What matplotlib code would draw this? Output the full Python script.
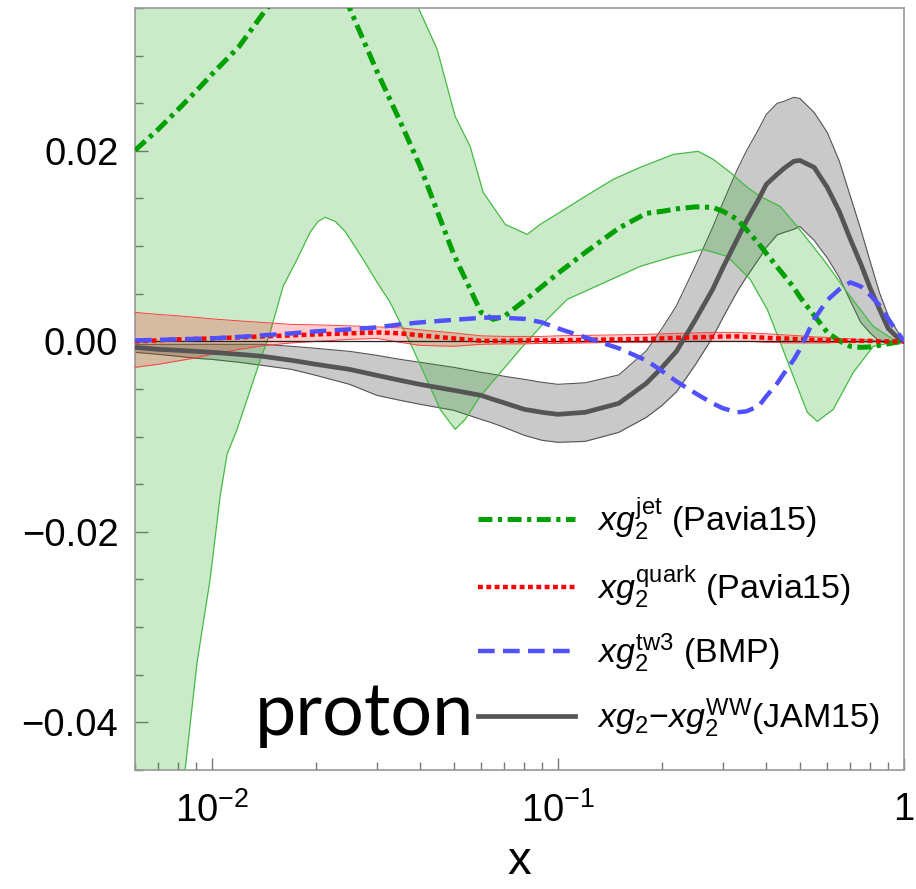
import numpy as np
import matplotlib.pyplot as plt
from matplotlib.ticker import MultipleLocator, LogLocator, NullFormatter

plt.rcParams['font.family'] = ['Liberation Sans', 'DejaVu Sans']
plt.rcParams['mathtext.fontset'] = 'custom'
plt.rcParams['mathtext.rm'] = 'Liberation Sans'
plt.rcParams['mathtext.it'] = 'Liberation Sans:italic'
plt.rcParams['mathtext.bf'] = 'Liberation Sans:bold'
plt.rcParams['lines.scale_dashes'] = False

# common x grid, curve values in units of 1e-3
x = [0.006, 0.007, 0.008, 0.009, 0.01, 0.012, 0.014, 0.017, 0.02, 0.025, 0.03,
     0.035, 0.04, 0.05, 0.06, 0.065, 0.07, 0.08, 0.09, 0.1, 0.12, 0.15, 0.18,
     0.2, 0.22, 0.25, 0.28, 0.3, 0.33, 0.35, 0.38, 0.4, 0.43, 0.45, 0.48, 0.5,
     0.55, 0.6, 0.65, 0.7, 0.75, 0.8, 0.85, 0.9, 0.95, 1.0]

jam = [-0.63, -0.84, -0.94, -1.05, -1.15, -1.36, -1.57, -1.99, -2.41, -2.94, -3.57,
       -4.09, -4.52, -5.14, -5.67, -6.09, -6.46, -7.14, -7.45, -7.66, -7.45, -6.51, -4.41,
       -2.73, -1.05, 2.31, 5.46, 7.77, 10.76, 12.60, 14.91, 16.48, 17.53, 18.16, 18.90, 19.00,
       18.27, 16.17, 13.65, 10.71, 8.14, 5.51, 3.36, 1.36, 0.52, 0.0]
jam_hi = [-0.31, -0.31, -0.31, -0.31, -0.31, -0.31, -0.31, -0.52, -0.73, -1.05, -1.47,
          -1.89, -2.20, -2.73, -3.25, -3.45, -3.67, -3.99, -4.30, -4.51, -4.35, -3.52, -1.0,
          1.36, 3.73, 7.98, 11.97, 14.59, 18.06, 19.95, 22.26, 23.83, 24.99, 25.20, 25.62, 25.51,
          24.04, 21.94, 18.94, 15.22, 11.76, 8.29, 5.09, 2.73, 1.26, 0.0]
jam_lo = [-1.15, -1.36, -1.57, -1.78, -1.89, -2.20, -2.52, -2.94, -3.57, -4.51, -5.67,
          -6.19, -6.61, -7.24, -8.19, -8.60, -9.03, -9.87, -10.39, -10.60, -10.50, -9.55, -7.98,
          -6.72, -5.31, -2.41, 0.42, 2.52, 5.25, 6.72, 8.61, 9.87, 11.18, 11.44, 11.76, 12.07,
          10.60, 8.77, 6.72, 4.25, 1.99, 0.84, 0.0, -0.21, -0.26, 0.0]

jet = [20.05, 22.26, 24.36, 26.25, 28.03, 30.97, 34.33, 38.2, 40.6, 35.0, 28.35,
       23.1, 18.37, 9.13, 3.04, 2.31, 2.62, 4.26, 5.77, 7.14, 9.34, 11.89, 13.44,
       13.65, 13.91, 14.12, 14.07, 13.65, 12.81, 11.76, 10.29, 9.24, 7.82, 6.93, 5.67, 4.67,
       2.73, 0.94, 0.06, -0.52, -0.63, -0.58, -0.42, -0.26, -0.10, 0.0]

tw3 = [0.10, 0.16, 0.21, 0.26, 0.31, 0.47, 0.63, 0.84, 1.05, 1.26, 1.47,
       1.78, 1.99, 2.26, 2.47, 2.52, 2.47, 2.36, 1.99, 1.36, 0.42, -0.73, -1.99,
       -3.12, -4.20, -5.46, -6.51, -7.03, -7.45, -7.35, -6.82, -5.77, -4.41, -3.36, -1.94, -0.84,
       2.31, 4.33, 5.46, 6.19, 5.77, 4.83, 3.78, 2.31, 1.15, 0.0]

quark = [0.0, 0.10, 0.21, 0.26, 0.31, 0.42, 0.52, 0.63, 0.73, 0.84, 0.94,
         0.84, 0.63, 0.31, 0.05, 0.05, 0.05, 0.10, 0.10, 0.10, 0.16, 0.21, 0.26,
         0.31, 0.37, 0.42, 0.47, 0.52, 0.52, 0.47, 0.42, 0.37, 0.31, 0.31, 0.26, 0.21,
         0.16, 0.10, 0.10, 0.05, 0.05, 0.05, 0.0, 0.0, 0.0, 0.0]
quark_hi = [3.04, 2.83, 2.68, 2.52, 2.36, 2.15, 1.99, 1.78, 1.73, 1.63, 1.52,
            1.42, 1.21, 0.89, 0.58, 0.55, 0.52, 0.52, 0.52, 0.58, 0.63, 0.68, 0.73,
            0.79, 0.84, 0.89, 0.94, 0.94, 0.94, 0.89, 0.84, 0.79, 0.73, 0.68, 0.63, 0.58,
            0.47, 0.42, 0.31, 0.26, 0.21, 0.16, 0.10, 0.05, 0.0, 0.0]
quark_lo = [-2.73, -2.41, -2.05, -1.73, -1.36, -0.84, -0.47, -0.16, 0.0, 0.21, 0.31,
            -0.10, -0.42, -0.52, -0.31, -0.28, -0.26, -0.26, -0.21, -0.21, -0.16, -0.10, -0.10,
            -0.05, -0.05, 0.0, 0.0, 0.0, 0.0, 0.0, -0.05, -0.10, -0.10, -0.16, -0.16, -0.16,
            -0.16, -0.16, -0.10, -0.10, -0.05, -0.05, 0.0, 0.0, 0.0, 0.0]

# Pavia15 jet band edges
jet_hi_x = [0.006, 0.03064, 0.0362, 0.03947, 0.04478, 0.05048, 0.05578, 0.06084, 0.07044,
            0.08153, 0.08888, 0.09692, 0.1199, 0.1445, 0.1729, 0.2155, 0.2543, 0.2811,
            0.3147, 0.3525, 0.3842, 0.4389, 0.4915, 0.5845, 0.6857, 0.8151, 0.9313, 1.0]
jet_hi = [51.7, 44.3, 38.0, 35.07, 30.66, 23.62, 20.47, 15.64, 12.28,
          11.23, 12.28, 13.12, 15.22, 17.01, 18.27, 19.63, 19.95, 19.11,
          17.74, 16.17, 15.22, 14.17, 12.07, 8.61, 5.14, 1.57, 0.21, 0.0]
jet_lo_x = [0.006, 0.008375, 0.009067, 0.009888, 0.01057, 0.01107, 0.01183, 0.01352, 0.01474,
            0.01607, 0.01764, 0.01923, 0.02029, 0.02125, 0.02272, 0.02428, 0.02737, 0.03004,
            0.03276, 0.03818, 0.0457, 0.05048, 0.05397, 0.05963, 0.0778, 0.09313, 0.1064,
            0.1326, 0.1729, 0.2155, 0.263, 0.3085, 0.3595, 0.4025, 0.4389, 0.4787, 0.5255,
            0.5616, 0.6247, 0.7139, 0.8151, 0.9313, 1.0]
jet_lo = [-84.8, -44.93, -33.70, -24.99, -16.27, -11.86, -9.24, -2.94, 0.94,
          5.77, 8.61, 11.44, 12.60, 13.02, 12.60, 11.55, 8.61, 6.19,
          4.09, -0.84, -7.14, -9.24, -8.19, -5.77, -0.84, 2.31, 4.41,
          5.98, 7.87, 8.92, 9.66, 8.92, 6.51, 3.36, -0.10, -3.67, -7.45,
          -8.40, -7.14, -3.25, -0.52, -0.10, 0.0]

s = 1e-3
fig = plt.figure(figsize=(9.16, 8.89), dpi=100)
ax = fig.add_axes([0.1474, 0.1339, 0.8395, 0.8571])

# bands
ax.fill_between(x, np.array(jam_lo) * s, np.array(jam_hi) * s, color='#c9c9c9', lw=0, zorder=1)
ax.plot(x, np.array(jam_lo) * s, color='#555555', lw=0.8, zorder=1.1)
ax.plot(x, np.array(jam_hi) * s, color='#555555', lw=0.8, zorder=1.1)

ax.fill(np.r_[jet_hi_x, jet_lo_x[::-1]], np.r_[jet_hi, jet_lo[::-1]] * s,
        color='#22aa22', alpha=0.24, lw=0, zorder=2)
ax.plot(jet_hi_x, np.array(jet_hi) * s, color='#44bb44', lw=0.9, zorder=2.1)
ax.plot(jet_lo_x, np.array(jet_lo) * s, color='#44bb44', lw=0.9, zorder=2.1)

ax.fill_between(x, np.array(quark_lo) * s, np.array(quark_hi) * s, color='#ff0000',
                alpha=0.2, lw=0, zorder=3)
ax.plot(x, np.array(quark_lo) * s, color='#ff4040', lw=0.7, zorder=3.1)
ax.plot(x, np.array(quark_hi) * s, color='#ff4040', lw=0.7, zorder=3.1)

ax.axhline(0, color='#222222', lw=0.9, zorder=3.5)

# central curves
l_jam, = ax.plot(x, np.array(jam) * s, color='#555555', lw=3.4, zorder=4.5)
l_jet, = ax.plot(x, np.array(jet) * s, color='#00a000', lw=3.6, dashes=[10, 4, 3, 4], zorder=5)
l_q, = ax.plot(x, np.array(quark) * s, color='#ff0000', lw=3.2, dashes=[3.5, 2.5], zorder=5)
l_tw, = ax.plot(x, np.array(tw3) * s, color='#5050ff', lw=3.2, dashes=[12, 6], zorder=5.2)

ax.set_xscale('log')
ax.set_xlim(0.006, 1.0)
ax.set_ylim(-0.045, 0.035)
ax.set_xticks([0.01, 0.1, 1.0])
ax.set_xticklabels([r'$10^{-2}$', r'$10^{-1}$', '1'])
ax.xaxis.set_minor_locator(LogLocator(base=10, subs=np.arange(2, 10)))
ax.xaxis.set_minor_formatter(NullFormatter())
ax.set_yticks([-0.04, -0.02, 0.0, 0.02])
ax.set_yticklabels(['\u22120.04', '\u22120.02', '0.00', '0.02'])
ax.yaxis.set_minor_locator(MultipleLocator(0.005))

ax.tick_params(which='both', direction='in', top=False, right=False, color='#777777',
               labelsize=27.5)
ax.tick_params(axis='y', pad=12)
ax.tick_params(axis='x', pad=16)
ax.tick_params(which='major', length=9, width=1)
ax.tick_params(which='minor', length=5.5, width=1)
for sp in ax.spines.values():
    sp.set_color('#999999')
    sp.set_linewidth(1.2)

ax.set_xlabel('x', fontsize=34, labelpad=7)

leg = ax.legend([l_jet, l_q, l_tw, l_jam],
                [r'$xg_2^{\rm jet}$ (Pavia15)',
                 r'$xg_2^{\rm quark}$ (Pavia15)',
                 r'$xg_2^{\rm tw3}$ (BMP)',
                 r'$xg_2{-}xg_2^{\rm WW}$(JAM15)'],
                loc='upper left', bbox_to_anchor=(0.446, 0.36), frameon=False,
                fontsize=24.5, handlelength=2.85, handletextpad=0.65, labelspacing=0.63,
                borderpad=0, borderaxespad=0)

ax.text(0.156, 0.046, 'proton', transform=ax.transAxes, fontsize=53, family='Lato',
        ha='left', va='baseline', color='black', zorder=6)

fig.savefig('out.png', dpi=100)
